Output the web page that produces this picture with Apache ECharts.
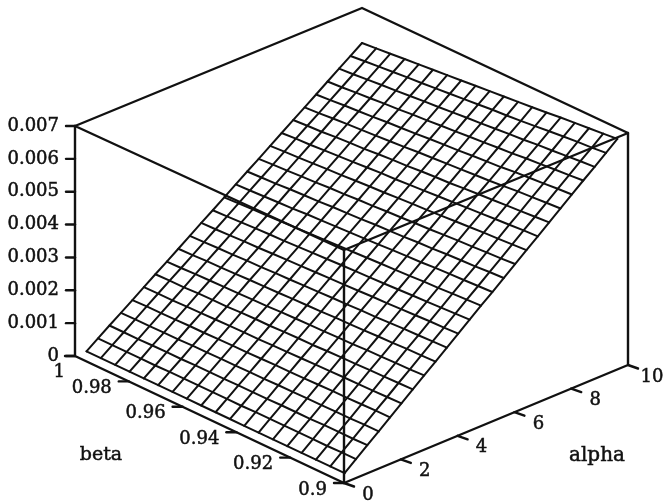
<!DOCTYPE html>
<html><head><meta charset="utf-8">
<style>html,body{margin:0;padding:0;background:#fff}#c{width:664px;height:502px}</style>
<script src="https://cdn.jsdelivr.net/npm/echarts@6/dist/echarts.min.js"></script>
</head><body><div id="c"></div>
<script>
// ---- data ----
const alphaGrid = [0.4,0.8,1.2,1.6,2,2.4,2.8,3.2,3.6,4,4.4,4.8,5.2,5.6,6,6.4,6.8,7.2,7.6,8,8.4,8.8,9.2,9.6,10];
const betaGrid = [1,0.99467,0.98933,0.984,0.97867,0.97333,0.968,0.96267,0.95733,0.952,0.94667,0.94133,0.936,0.93067,0.92533,0.92,0.91467,0.90933,0.904];
// surface height, in units of 1e-5: one row per alpha, one column per beta
const surfaceRows = [
[0,0,0,0,0,0,0,0,0,0,0,0,0,0,0,0,0,0,0],
[25,25,25,25,25,26,26,26,26,26,26,27,27,27,27,27,27,28,28],
[50,50,50,51,51,51,52,52,52,53,53,53,54,54,54,55,55,55,56],
[74,75,75,76,76,77,77,78,78,79,79,80,80,81,81,82,82,83,83],
[99,100,100,101,102,102,103,104,104,105,106,106,107,108,109,109,110,111,111],
[124,125,125,126,127,128,129,130,130,131,132,133,134,135,136,136,137,138,139],
[149,150,150,152,153,153,155,156,156,158,159,159,161,162,163,164,165,166,167],
[173,174,176,177,178,179,180,181,183,184,185,186,187,188,190,191,192,193,195],
[198,199,201,202,203,205,206,207,209,210,211,213,214,215,217,218,220,221,222],
[223,224,226,227,229,230,232,233,235,236,238,239,241,242,244,246,247,249,250],
[248,249,251,253,254,256,258,259,261,263,264,266,268,269,271,273,275,276,278],
[272,274,276,278,280,281,283,285,287,289,291,292,294,296,298,300,302,304,306],
[297,299,301,303,305,307,309,311,313,315,317,319,321,323,326,327,330,332,334],
[322,324,326,328,330,333,335,337,339,341,343,346,348,350,353,355,357,359,361],
[347,349,351,354,356,358,361,363,365,368,370,372,375,377,380,382,384,387,389],
[371,374,376,379,381,384,386,389,391,394,396,399,401,404,407,409,412,414,417],
[396,399,401,404,407,409,412,415,417,420,423,425,428,431,434,437,439,442,445],
[421,424,426,429,432,435,438,441,443,446,449,452,455,458,461,464,467,470,472],
[446,449,451,455,458,460,464,467,469,473,476,478,482,485,488,491,494,497,500],
[470,473,477,480,483,486,489,492,496,499,502,505,508,511,515,519,522,525,528],
[495,498,502,505,508,512,515,518,522,525,528,532,535,538,543,546,549,553,556],
[520,523,527,530,534,537,541,544,548,551,555,558,562,565,570,573,577,580,584],
[545,548,552,556,559,563,567,570,574,578,581,585,589,592,597,600,604,608,611],
[569,573,577,581,585,588,592,596,600,604,608,611,615,619,624,628,632,635,639],
[594,598,602,606,610,614,618,622,626,630,634,638,642,646,651,655,659,663,667]
];
const surfaceUnit = 1e-5;
const zTicks = [0,0.001,0.002,0.003,0.004,0.005,0.006,0.007];
const zTickLabels = ['0','0.001','0.002','0.003','0.004','0.005','0.006','0.007'];
const betaTicks = [1,0.98,0.96,0.94,0.92,0.9];
const betaTickLabels = ['1','0.98','0.96','0.94','0.92','0.9'];
const alphaTicks = [0,2,4,6,8,10];
const alphaTickLabels = ['0','2','4','6','8','10'];
const alphaRange = [0,10], betaRange = [1,0.9], zRange = [0,0.007];

// ---- the 3D box as it appears on the page: trilinear view of its corners ----
const view = {
  bottom: [[[75,356],[344,483]],[[362,239],[628,365]]],   // [alpha][beta]
  top:    [[[75,126],[344,250]],[[362,8],[628,133]]]
};
const mix = (a,b,t) => [a[0]+(b[0]-a[0])*t, a[1]+(b[1]-a[1])*t];
function project(alpha,beta,z){
  const u=(alpha-alphaRange[0])/(alphaRange[1]-alphaRange[0]);
  const v=(beta-betaRange[0])/(betaRange[1]-betaRange[0]);
  const w=(z-zRange[0])/(zRange[1]-zRange[0]);
  const at=f=>mix(mix(f[0][0],f[0][1],v),mix(f[1][0],f[1][1],v),u);
  return mix(at(view.bottom),at(view.top),w);
}
const INK='#111111', FONT='"DejaVu Serif", serif', FS=18, MESH=2, BOX=2.4;
const series=[];
function polyline(pts,width){
  series.push({type:'line',data:pts,showSymbol:false,symbol:'none',silent:true,animation:false,
    lineStyle:{color:INK,width:width,cap:'round',join:'round'},z:width>MESH?3:2});
}
// mesh
alphaGrid.forEach((a,i)=>polyline(betaGrid.map((b,j)=>project(a,b,surfaceRows[i][j]*surfaceUnit)),MESH));
betaGrid.forEach((b,j)=>polyline(alphaGrid.map((a,i)=>project(a,b,surfaceRows[i][j]*surfaceUnit)),MESH));
// box
const [a0,a1]=alphaRange,[b0,b1]=betaRange,[z0,z1]=zRange;
polyline([project(a0,b0,z1),project(a0,b0,z0),project(a0,b1,z0),project(a1,b1,z0),project(a1,b1,z1)],BOX);
polyline([project(a0,b0,z1),project(a1,b0,z1),project(a1,b1,z1),project(a0,b1,z1),project(a0,b0,z1)],BOX);
polyline([project(a0,b1,z1),project(a0,b1,z0)],BOX);
// ticks
const off=(p,dx,dy)=>[p[0]+dx,p[1]+dy];
zTicks.forEach(z=>{const p=project(a0,b0,z);polyline([p,off(p,-9,0)],BOX);});
betaTicks.forEach(b=>{const p=project(a0,b,z0);polyline([p,off(p,-10,0)],BOX);});
alphaTicks.forEach(a=>{const p=project(a,b1,z0);polyline([p,off(p,10,3.5)],BOX);});
// texts
const texts=[];
zTicks.forEach((z,i)=>{const p=project(a0,b0,z);texts.push({p:off(p,-16,0),t:zTickLabels[i],align:'right'});});
betaTicks.forEach((b,i)=>{const p=project(a0,b,z0);
  if(b===1) texts.push({p:off(p,-10,16),t:betaTickLabels[i],align:'right'});
  else texts.push({p:off(p,-17,7),t:betaTickLabels[i],align:'right'});});
alphaTicks.forEach((a,i)=>{const p=project(a,b1,z0);texts.push({p:off(p,24,12),t:alphaTickLabels[i],align:'center'});});
texts.push({p:[101,455],t:'beta',align:'center',size:19});
texts.push({p:[597,456],t:'alpha',align:'center',size:20});
series.push({type:'custom',silent:true,animation:false,z:5,clip:false,
  data:texts.map(d=>d.p),
  renderItem:(params,api)=>{
    const d=texts[params.dataIndex];
    const c=api.coord([api.value(0),api.value(1)]);
    return {type:'text',x:c[0],y:c[1],style:{text:d.t,textAlign:d.align,textVerticalAlign:'middle',
      font:(d.size||FS)+'px '+FONT,fill:INK,stroke:INK,lineWidth:0.5}};
  }});
const chart=echarts.init(document.getElementById('c'),null,{renderer:'canvas'});
chart.setOption({
  animation:false,backgroundColor:'#fff',
  grid:{left:0,right:0,top:0,bottom:0},
  xAxis:{type:'value',min:0,max:664,show:false},
  yAxis:{type:'value',min:0,max:502,inverse:true,show:false},
  tooltip:{show:false},legend:{show:false},
  series:series
});
</script></body></html>
